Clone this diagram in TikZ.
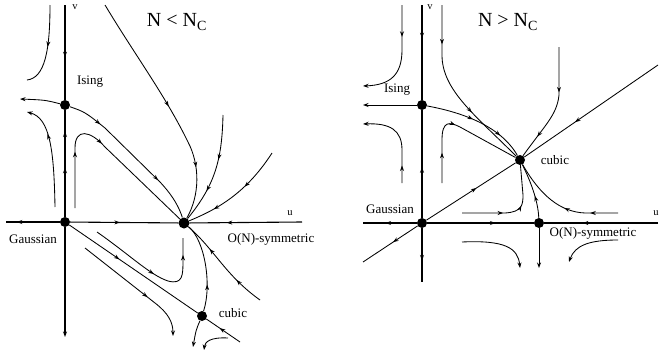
\documentclass[tikz,border=0pt]{standalone}
\usepackage{fontspec}
\setmainfont{Liberation Serif}
\usetikzlibrary{arrows.meta,decorations.markings}
\tikzset{
  flow/.style={line width=0.85pt},
  axis/.style={line width=1.1pt},
  fp/.style={circle,fill,inner sep=0pt,minimum size=10pt},
  arw/.style={postaction={decorate,decoration={markings,mark=at position #1 with {\arrow{Stealth[length=5.5pt,width=4pt]}}}}},
  endarrow/.style={-{Stealth[length=5.5pt,width=4pt]}},
  lbl/.style={font=\fontsize{13}{15}\selectfont},
  ttl/.style={font=\fontsize{20}{22}\selectfont},
  axlbl/.style={font=\fontsize{10.5}{12}\selectfont}
}
\begin{document}
\begin{tikzpicture}[x=1pt,y=-1pt]
\useasboundingbox (0,0) rectangle (659,351);
% left: N < Nc
\node[fp] (isingL) at (65,105) {};
\node[fp] (gaussL) at (65,222) {};
\node[fp,minimum size=11pt] (onL) at (184,223) {};
\node[fp] (cubicL) at (202,316) {};
\node[ttl] (titleL) at (177,22) {N < N\textsubscript{C}};
\node[lbl] (isingLlbl) at (90,82) {Ising};
\node[lbl] (gaussLlbl) at (33,239) {Gaussian};
\node[lbl] (onLlbl) at (271,239) {O(N)-symmetric};
\node[lbl] (cubicLlbl) at (233,313) {cubic};
\node[axlbl] (vL) at (75,7) {v};
\node[axlbl] (uL) at (290,213) {u};
% axes
\draw[axis,arw=0.55] (65,5) -- (isingL);
\draw[axis,arw=0.46,arw=0.8] (gaussL) -- (isingL);
\draw[axis,endarrow] (gaussL) -- (65,337);
\draw[axis,arw=0.8] (gaussL) -- (6,222);
\draw[axis,arw=0.46] (gaussL) -- (onL);
\draw[axis,arw=0.67] (302,222) -- (onL);
% flow lines
\draw[flow,endarrow] (isingL) .. controls (45,100) .. (20,99);
\draw[flow,arw=0.5] (50,5) .. controls (50,50) and (45,78) .. (27,80);
\draw[flow,arw=0.7,endarrow] (55,207) .. controls (54,150) and (50,118) .. (27,112);
\draw[flow,arw=0.22,arw=0.72] (isingL) .. controls (85,112) .. (105,128) -- (160,182) .. controls (175,198) and (180,210) .. (onL);
\draw[flow,arw=0.27,arw=0.48] (75,208) -- (75,148) .. controls (75,128) and (90,130) .. (105,147) -- (onL);
\draw[flow,arw=0.5,arw=0.78] (105,5) .. controls (135,55) and (165,95) .. (188,142) .. controls (200,165) and (200,195) .. (onL);
\draw[flow,arw=0.4,arw=0.7] (223,115) .. controls (222,160) and (215,185) .. (onL);
\draw[flow,arw=0.4,arw=0.75] (272,153) .. controls (245,195) and (215,210) .. (onL);
\draw[flow,arw=0.5,arw=0.88] (97,232) .. controls (130,255) and (150,275) .. (168,281) .. controls (183,285) and (183,275) .. (183,260) -- (183,238);
\draw[flow,arw=0.3] (cubicL) .. controls (212,285) and (205,240) .. (onL);
\draw[flow,arw=0.3,arw=0.7] (260,300) .. controls (225,275) and (215,250) .. (onL);
\draw[flow,arw=0.39] (gaussL) -- (cubicL);
\draw[flow,arw=0.6] (240,342) -- (cubicL);
\draw[flow,arw=0.62,endarrow] (85,248) -- (155,303) .. controls (168,313) and (173,322) .. (173,336);
\draw[flow,endarrow] (cubicL) .. controls (196,330) .. (193,347);
\draw[flow,endarrow] (228,338) .. controls (210,337) and (205,342) .. (204,350);
% right: N > Nc
\node[fp] (isingR) at (422,105) {};
\node[fp] (gaussR) at (422,223) {};
\node[fp] (onR) at (539,223) {};
\node[fp] (cubicR) at (520,160) {};
\node[ttl] (titleR) at (508,22) {N > N\textsubscript{C}};
\node[lbl] (isingRlbl) at (397,90) {Ising};
\node[lbl] (gaussRlbl) at (390,209) {Gaussian};
\node[lbl] (onRlbl) at (593,233) {O(N)-symmetric};
\node[lbl] (cubicRlbl) at (555,160) {cubic};
\node[axlbl] (vR) at (430,7) {v};
\node[axlbl] (uR) at (656,213) {u};
% axes
\draw[axis,arw=0.35] (422,5) -- (isingR);
\draw[axis,arw=0.47] (gaussR) -- (isingR);
\draw[axis,arw=0.6] (gaussR) -- (422,282);
\draw[axis,arw=0.58] (gaussR) -- (363,223);
\draw[axis,arw=0.64] (gaussR) -- (onR);
\draw[axis,arw=0.66] (658,223) -- (onR);
% diagonal
\draw[flow,arw=0.45] (gaussR) -- (363,262);
\draw[flow,arw=0.56] (gaussR) -- (cubicR);
\draw[flow,arw=0.62] (658,65) -- (cubicR);
% flow lines
\draw[flow,endarrow] (isingR) -- (363,105);
\draw[flow,arw=0.3,endarrow] (402,5) -- (402,50) .. controls (402,75) and (390,85) .. (363,86);
\draw[flow,arw=0.2,endarrow] (402,183) -- (402,150) .. controls (402,130) and (390,123) .. (363,124);
\draw[flow,arw=0.22,arw=0.65] (442,5) -- (442,55) .. controls (442,90) and (475,115) .. (cubicR);
\draw[flow,arw=0.45,arw=0.75] (isingR) .. controls (460,112) and (500,125) .. (cubicR);
\draw[flow,arw=0.22,arw=0.5] (442,183) -- (442,140) .. controls (442,120) and (450,122) .. (460,127) -- (cubicR);
\draw[flow,arw=0.38,arw=0.8] (559,47) -- (559,95) .. controls (557,115) and (545,125) .. (cubicR);
\draw[flow,arw=0.4,arw=0.6] (462,213) -- (505,213) .. controls (522,212) and (523,205) .. (523,195) -- (cubicR);
\draw[flow,arw=0.4] (onR) .. controls (538,200) and (530,180) .. (cubicR);
\draw[flow,arw=0.24,arw=0.47] (618,213) -- (585,213) .. controls (560,212) and (540,195) .. (cubicR);
\draw[flow,endarrow] (462,242) .. controls (505,240) and (518,248) .. (520,268);
\draw[flow,endarrow] (onR) -- (539,268);
\draw[flow,endarrow] (618,240) .. controls (590,240) and (575,245) .. (569,262);
\end{tikzpicture}
\end{document}
